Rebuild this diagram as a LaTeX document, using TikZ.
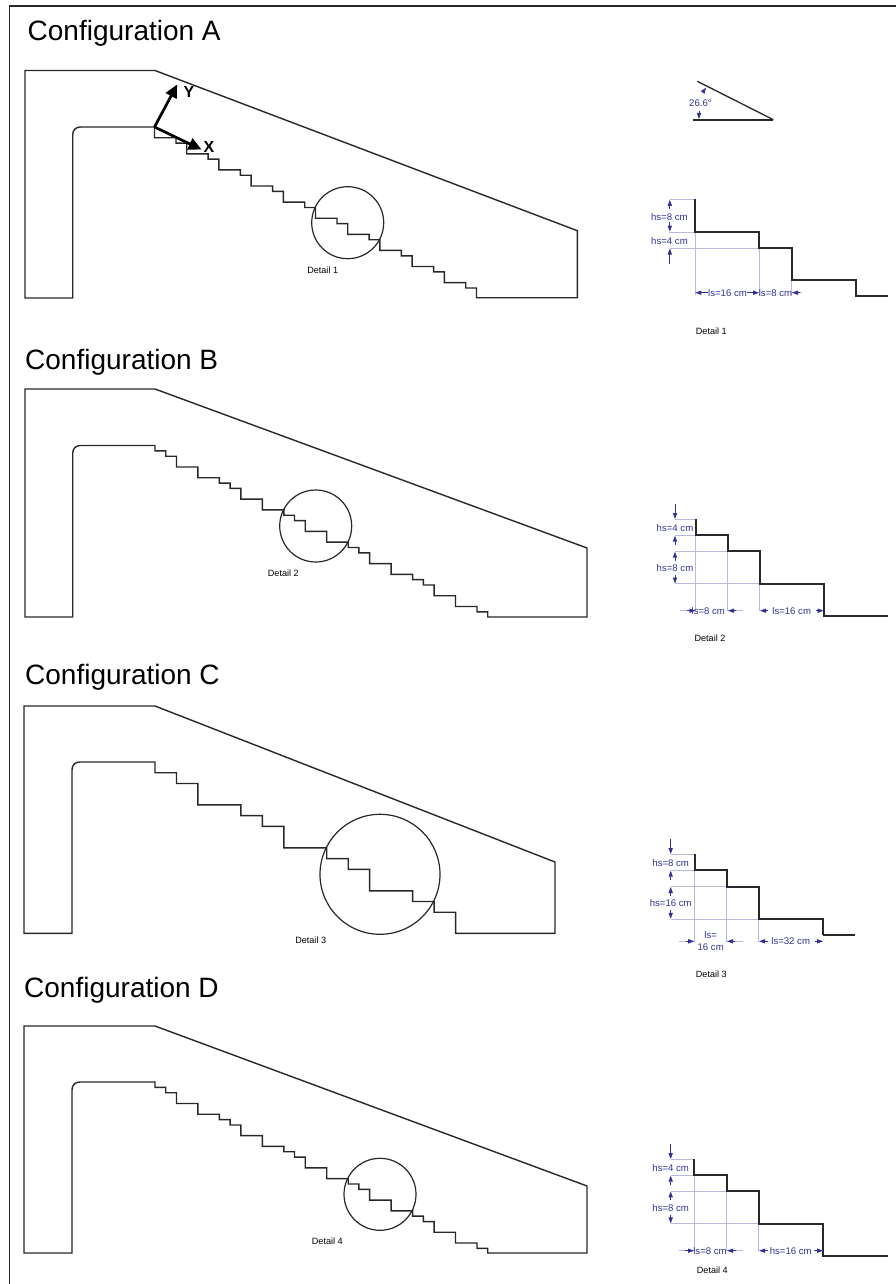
\documentclass[tikz,border=0pt]{standalone}
\usepackage{fontspec}
\setmainfont{Liberation Sans}
\usetikzlibrary{arrows.meta}
\definecolor{dimblue}{RGB}{50,50,150}
\definecolor{extblue}{RGB}{185,185,220}
\definecolor{ink}{RGB}{40,40,40}
\tikzset{
  frameline/.style={line width=1.1pt,draw=ink},
  outline/.style={line width=1.4pt,draw=ink,line join=miter},
  ringline/.style={line width=1.2pt,draw=ink},
  axisline/.style={line width=2.7pt,black,-{Triangle[length=13pt,width=12pt]},shorten >=0pt},
  axislabel/.style={font=\fontsize{16}{16}\selectfont\bfseries,text=black,inner sep=0pt},
  titlelabel/.style={font=\fontsize{28}{28}\selectfont,text=black,inner sep=0pt,anchor=base west},
  detaillabel/.style={font=\fontsize{9.1}{9}\selectfont,text=black,inner sep=0pt},
  stairline/.style={line width=1.7pt,draw=ink},
  extline/.style={line width=0.7pt,draw=extblue},
  dimline/.style={line width=0.8pt,draw=dimblue,-{Triangle[length=6pt,width=4.2pt]}},
  dimtext/.style={font=\fontsize{9.6}{10}\selectfont,text=dimblue,inner sep=0pt},
}
\def\dS{10.73}\def\hS{5.37}\def\dL{21.47}\def\dXL{42.93}
\def\perA{-- ++(0,\dS) -- ++(\dL,0) -- ++(0,\hS) -- ++(\dS,0)}
\def\stepsmall{-- ++(0,\hS) -- ++(\dS,0)}
\def\stepmid{-- ++(0,\dS) -- ++(\dL,0)}
\def\stepbig{-- ++(0,\dL) -- ++(\dXL,0)}
\def\perB{\stepsmall\stepsmall\stepmid\stepmid}
\def\perC{\stepmid\stepmid\stepbig}
\begin{document}
\begin{tikzpicture}[x=1pt,y=-1pt]
\useasboundingbox (0,0) rectangle (896,1284);
\fill[white] (0,0) rectangle (896,1284);
\draw[frameline] (9.3,1284) -- (9.3,6) -- (896,6);
% titles
\node[titlelabel] (tA) at (27.5,40.7) {Configuration A};
\node[titlelabel] (tB) at (25,369) {Configuration B};
\node[titlelabel] (tC) at (25,684) {Configuration C};
\node[titlelabel] (tD) at (24,997) {Configuration D};
% Configuration A
\draw[outline] (25,298) -- (72.7,298) -- (72.7,135) .. controls (72.7,130) and (75.7,127) .. (80.7,127) -- (154.5,127)
  \perA\perA\perA\perA\perA\perA\perA\perA\perA\perA |- (577.3,297.7) -- (577.3,230.7) -- (155,70.5) -- (25,70.5) -- cycle;
\node[circle,ringline,draw,minimum size=72pt,inner sep=0pt] (c1) at (347.7,222.7) {};
\node[detaillabel] (d1) at (322.7,270) {Detail 1};
\coordinate (org) at (154.5,127);
\coordinate (yt) at (177.2,84.5);
\coordinate (xt) at (201.5,149.5);
\draw[axisline] (org) -- (yt);
\draw[axisline] (org) -- (xt);
\node[axislabel] (ly) at (189,91.5) {Y};
\node[axislabel] (lx) at (209,146.5) {X};
% Configuration B
\draw[outline] (25,617) -- (72.7,617) -- (72.7,453.5) .. controls (72.7,448.5) and (75.7,445.5) .. (80.7,445.5) -- (155,445.5)
  \perB\perB\perB\perB\perB \stepsmall |- (587,617) -- (587,548) -- (155,389) -- (25,389) -- cycle;
\node[circle,ringline,draw,minimum size=72pt,inner sep=0pt] (c2) at (315.7,526) {};
\node[detaillabel] (d2) at (283.3,573.3) {Detail 2};
% Configuration C
\draw[outline] (24,933.3) -- (72,933.3) -- (72,770) .. controls (72,765) and (75,762) .. (80,762) -- (155,762)
  \perC\perC\perC \stepmid\stepmid |- (555,933.3) -- (555,862) -- (155,706) -- (24,706) -- cycle;
\node[circle,ringline,draw,minimum size=120pt,inner sep=0pt] (c3) at (380,874.3) {};
\node[detaillabel] (d3) at (310.7,940.7) {Detail 3};
% Configuration D
\draw[outline] (24,1253) -- (72,1253) -- (72,1090) .. controls (72,1085) and (75,1082) .. (80,1082) -- (155,1082)
  \perB\perB\perB\perB\perB \stepsmall |- (587,1253) -- (587,1186) -- (155,1026) -- (24,1026) -- cycle;
\node[circle,ringline,draw,minimum size=72pt,inner sep=0pt] (c4) at (380,1194.3) {};
\node[detaillabel] (d4) at (327.3,1241) {Detail 4};
% Angle sketch
\draw[stairline,line width=1.3pt] (697.3,81.3) -- (773.3,119.7);
\draw[stairline,line width=2pt] (693.3,119.7) -- (773.3,119.7);
\node[dimtext] (ang) at (700.5,102.7) {26.6°};
\draw[dimline] (703,92) -- (706,87.5);
\draw[dimline] (699,111) -- (699,119);
% Detail 1
\draw[extline] (670,199.3) -- (695,199.3) (669,232) -- (695,232) (670,248) -- (759.3,248)
  (695,232) -- (695,295) (759.3,248) -- (759.3,295) (791.7,280) -- (791.7,295) (791.7,292.7) -- (802,292.7);
\draw[stairline] (695,199.3) -- (695,232) -- (759.3,232) -- (759.3,248.3) -- (791.7,248.3) -- (791.7,280) -- (856,280) -- (856,296) -- (888.3,296);
\draw[dimline] (669.8,209) -- (669.8,199.8);
\draw[dimline] (669.8,222) -- (669.8,231.6);
\draw[dimline] (669.8,263.5) -- (669.8,248.5);
\node[dimtext] (h11) at (669.3,216.7) {hs=8 cm};
\node[dimtext] (h12) at (669.5,240.7) {hs=4 cm};
\draw[dimline] (708,292.7) -- (695.3,292.7);
\draw[dimline] (747,292.7) -- (759,292.7);
\draw[dimline] (800,292.7) -- (792,292.7);
\node[dimtext] (l11) at (727.5,292.7) {ls=16 cm};
\node[dimtext] (l12) at (775.5,292.7) {ls=8 cm};
\node[detaillabel] (dd1) at (711.3,331.3) {Detail 1};
% Detail 2
\draw[extline] (675,519.3) -- (695.7,519.3) (675,535.3) -- (695.7,535.3) (675,551.3) -- (727.7,551.3) (675,583.7) -- (759.7,583.7)
  (695.7,535.3) -- (695.7,611) (727.7,551.3) -- (727.7,611) (759.7,583.7) -- (759.7,611)
  (680,610.7) -- (695,610.7) (728,610.7) -- (743,610.7);
\draw[stairline] (695.7,519.3) -- (695.7,535.3) -- (727.7,535.3) -- (727.7,551.3) -- (759.7,551.3) -- (759.7,583.7) -- (824,583.7) -- (824,615.7) -- (888.3,615.7);
\draw[dimline] (675,503.5) -- (675,519);
\draw[dimline] (675,545) -- (675,535.7);
\draw[dimline] (675,561) -- (675,551.7);
\draw[dimline] (675,575) -- (675,583.5);
\node[dimtext] (h21) at (675,527.7) {hs=4 cm};
\node[dimtext] (h22) at (675,567.7) {hs=8 cm};
\draw[dimline] (687,610.7) -- (695.5,610.7);
\draw[dimline] (736,610.7) -- (728,610.7);
\draw[dimline] (768,610.7) -- (760,610.7);
\draw[dimline] (816,610.7) -- (823.7,610.7);
\node[dimtext] (l21) at (708.3,610.7) {ls=8 cm};
\node[dimtext] (l22) at (791.7,610.7) {ls=16 cm};
\node[detaillabel] (dd2) at (710,638.3) {Detail 2};
% Detail 3
\draw[extline] (670.7,854.3) -- (694.7,854.3) (670.7,870.3) -- (694.7,870.3) (670.7,886.7) -- (726.7,886.7) (670.7,919) -- (758.7,919)
  (694.7,870.3) -- (694.7,941.5) (726.7,886.7) -- (726.7,941.5) (758.7,919) -- (758.7,941.5)
  (679.3,941.3) -- (694,941.3) (727,941.3) -- (742.7,941.3);
\draw[stairline] (694.7,854.3) -- (694.7,870.3) -- (726.7,870.3) -- (726.7,886.7) -- (758.7,886.7) -- (758.7,919) -- (823.3,919) -- (823.3,935);
\draw[stairline,line width=1.2pt] (823.3,935) -- (855.3,935);
\draw[dimline] (670.7,838.5) -- (670.7,854);
\draw[dimline] (670.7,880) -- (670.7,870.7);
\draw[dimline] (670.7,896) -- (670.7,887);
\draw[dimline] (670.7,910) -- (670.7,918.8);
\node[dimtext] (h31) at (670.7,863) {hs=8 cm};
\node[dimtext] (h32) at (670.7,902.7) {hs=16 cm};
\draw[dimline] (686,941.3) -- (694.2,941.3);
\draw[dimline] (735,941.3) -- (727,941.3);
\draw[dimline] (768,941.3) -- (759,941.3);
\draw[dimline] (815,941.3) -- (823,941.3);
\node[dimtext] (l31a) at (710.7,935.3) {ls=};
\node[dimtext] (l31b) at (710.7,947) {16 cm};
\node[dimtext] (l32) at (790.7,941.3) {ls=32 cm};
\node[detaillabel] (dd3) at (711.3,974.3) {Detail 3};
% Detail 4
\draw[extline] (670.7,1159.3) -- (694.3,1159.3) (670.7,1175.3) -- (694.3,1175.3) (670.7,1191) -- (726.7,1191) (670.7,1223.7) -- (758.7,1223.7)
  (694.3,1175.3) -- (694.3,1251) (726.7,1191) -- (726.7,1251) (758.7,1223.7) -- (758.7,1251)
  (678.7,1250.7) -- (694,1250.7) (727,1250.7) -- (742.7,1250.7);
\draw[stairline] (694.3,1159.3) -- (694.3,1175.3) -- (726.7,1175.3) -- (726.7,1191) -- (758.7,1191) -- (758.7,1223.7) -- (823.3,1223.7) -- (823.3,1255.7) -- (887.7,1255.7);
\draw[dimline] (670.7,1143.5) -- (670.7,1159);
\draw[dimline] (670.7,1185) -- (670.7,1175.7);
\draw[dimline] (670.7,1200) -- (670.7,1191.4);
\draw[dimline] (670.7,1215) -- (670.7,1223.4);
\node[dimtext] (h41) at (670.7,1167.7) {hs=4 cm};
\node[dimtext] (h42) at (670.7,1207.7) {hs=8 cm};
\draw[dimline] (685,1250.7) -- (694,1250.7);
\draw[dimline] (736,1250.7) -- (727,1250.7);
\draw[dimline] (768,1250.7) -- (759,1250.7);
\draw[dimline] (814,1250.7) -- (823,1250.7);
\node[dimtext] (l41) at (710,1250.7) {ls=8 cm};
\node[dimtext] (l42) at (790.7,1250.7) {hs=16 cm};
\node[detaillabel] (dd4) at (712.3,1270.3) {Detail 4};
\end{tikzpicture}
\end{document}
